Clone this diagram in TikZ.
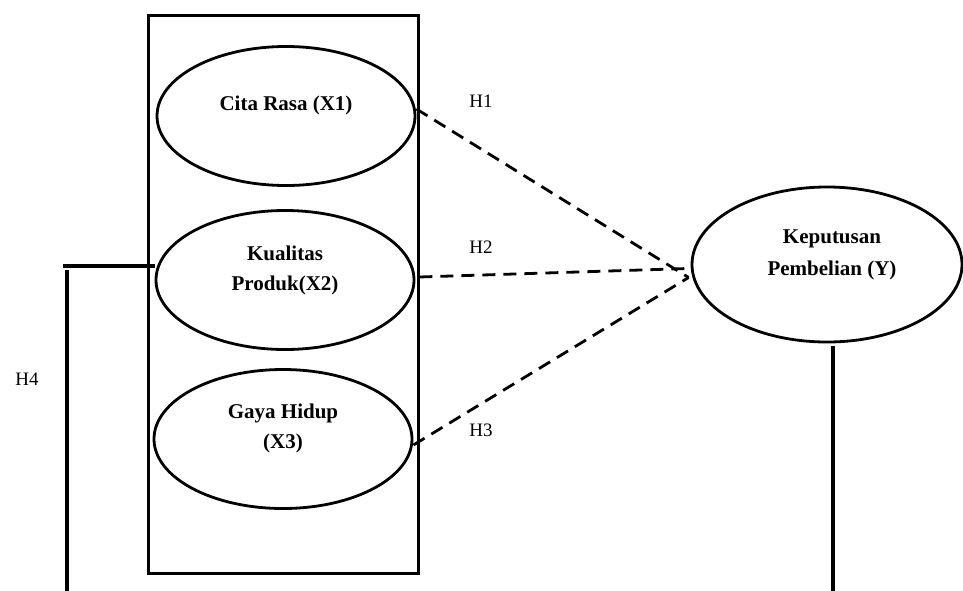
\documentclass[tikz,border=0pt]{standalone}
\usepackage{fontspec}
\setmainfont{Liberation Serif}
\usetikzlibrary{shapes.geometric}
\begin{document}
\begin{tikzpicture}[x=1pt,y=-1pt,
  ell/.style={draw, ellipse, line width=2.8pt, inner sep=0pt, minimum width=258pt, minimum height=139pt},
  boxtxt/.style={font=\fontsize{21}{30}\selectfont\bfseries, align=center, inner sep=0pt},
  hlbl/.style={font=\fontsize{19}{23}\selectfont, inner sep=0pt},
  hyp/.style={line width=2.8pt, dash pattern=on 13pt off 8pt},
  solidln/.style={line width=3.8pt}]
\useasboundingbox (0,0) rectangle (963,590);
% frame
\node[draw, line width=3pt, minimum width=270pt, minimum height=558pt, inner sep=0pt] (frame) at (283,294) {};
% ellipses
\node[ell] (e1) at (286,116) {};
\node[ell] (e2) at (285,280) {};
\node[ell] (e3) at (283,439) {};
\node[ell, minimum width=270pt, minimum height=155pt] (ey) at (827,264.5) {};
% texts
\node[boxtxt] (t1) at ([yshift=11pt]e1.center) {Cita Rasa (X1)};
\node[boxtxt] (t2) at ([yshift=10pt]e2.center) {Kualitas\\Produk(X2)};
\node[boxtxt] (t3) at ([yshift=11pt]e3.center) {Gaya Hidup\\(X3)};
\node[boxtxt, font=\fontsize{21}{32}\selectfont\bfseries] (ty) at ([xshift=5pt,yshift=10pt]ey.center) {Keputusan\\Pembelian (Y)};
% hypotheses connectors
\draw[hyp] ([yshift=7pt]e1.east) -- ([xshift=-2pt,yshift=-13pt]ey.west);
\draw[hyp] ([xshift=4pt,yshift=3pt]e2.east) -- ([xshift=-3pt,yshift=-4pt]ey.west);
\draw[hyp] ([yshift=-6pt]e3.east) -- ([xshift=-2pt,yshift=-13pt]ey.west);
% labels
\node[hlbl] (h1) at (481,101) {H1};
\node[hlbl] (h2) at (481,247) {H2};
\node[hlbl] (h3) at (481,430) {H3};
\node[hlbl] (h4) at (27,379) {H4};
% H4 bracket
\coordinate (hl) at (63,266);
\coordinate (vl) at (67,270);
\coordinate (vlb) at (67,592);
\draw[solidln] (hl) -- (hl -| e2.west);
\draw[line width=3.4pt] (vl) -- (vlb);
\coordinate (yb) at (833,592);
\draw[solidln] ([xshift=6pt,yshift=-3pt]ey.south) -- (yb);
\end{tikzpicture}
\end{document}
